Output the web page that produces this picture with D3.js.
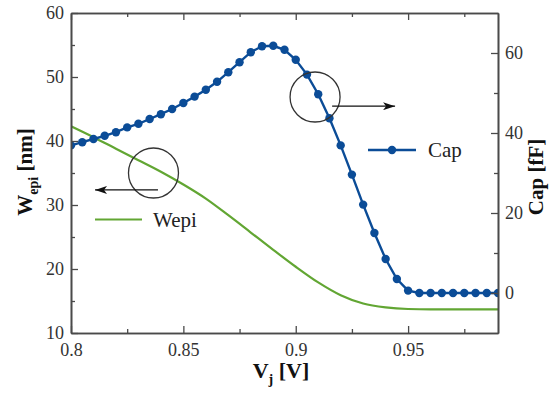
<!DOCTYPE html>
<html>
<head>
<meta charset="utf-8">
<script src="https://cdn.jsdelivr.net/npm/d3@7/dist/d3.min.js"></script>
<style>
  html, body { margin: 0; padding: 0; background: #fff; }
  svg { display: block; }
  text { font-family: "Liberation Serif", "DejaVu Serif", "Times New Roman", serif; }
</style>
</head>
<body>
<svg id="chart" width="550" height="399"></svg>
<script>
// ---------- data ----------
const capVj = [0.800,0.805,0.810,0.815,0.820,0.825,0.830,0.835,0.840,0.845,
               0.850,0.855,0.860,0.865,0.870,0.875,0.880,0.885,0.890,0.895,
               0.900,0.905,0.910,0.915,0.920,0.925,0.930,0.935,0.940,0.945,
               0.950,0.955,0.960,0.965,0.970,0.975,0.980,0.985,0.990];
const capValues = [36.9,37.7,38.5,39.3,40.2,41.4,42.3,43.5,44.7,46.0,
                   47.5,49.1,50.8,52.8,55.2,57.7,60.2,61.7,61.8,60.8,
                   58.3,54.6,49.7,43.7,36.9,29.6,22.1,15.0,8.5,3.5,
                   0.6,0,0,0,0,0,0,0,0];
const wepiVj = [0.80,0.81,0.82,0.83,0.84,0.85,0.86,0.87,0.88,0.89,
                0.90,0.91,0.92,0.93,0.94,0.95,0.96,0.97,0.98,0.99];
const wepiValues = [42.3,40.6,38.8,37.0,35.2,33.2,31.0,28.4,25.7,23.0,
                    20.35,17.9,15.9,14.6,14.0,13.75,13.7,13.7,13.7,13.7];
const xTicks = [0.8,0.85,0.9,0.95];
const xMinorTicks = [0.825,0.875,0.925,0.975];
const leftTicks = [10,20,30,40,50,60];
const leftMinorTicks = [15,25,35,45,55];
const rightTicks = [0,20,40,60];
const rightMinorTicks = [10,30,50];
const seriesNames = ["Cap","Wepi"];
// annotation anchors (data units)
const wepiCircle = {vj:0.8367, v:35.0};
const wepiArrow = {from:0.8387, to:0.8107, v:32.35};
const capCircle = {vj:0.9086, v:49.0};
const capArrow = {from:0.9162, to:0.9442, v:46.7};

// ---------- layout ----------
const L = 71, R = 498, T = 13, B = 333;
const FONT = '"Liberation Serif", "DejaVu Serif", "Times New Roman", serif';
const svg = d3.select("#chart");
const x = d3.scaleLinear().domain([0.8, 0.99]).range([L, R]);
const yL = d3.scaleLinear().domain([10, 60]).range([B, T]);
const yR = d3.scaleLinear().domain([-10, 70]).range([B, T]);

const capColor = "#0b4c97";
const wepiColor = "#62a633";
const axisColor = "#4a4a4a";

svg.append("defs").append("clipPath").attr("id","clip")
  .append("rect").attr("x",L).attr("y",T).attr("width",R-L).attr("height",B-T);

// ---------- series ----------
const plot = svg.append("g").attr("clip-path","url(#clip)");
const wepiData = wepiVj.map((d,i)=>({x:d, y:wepiValues[i]}));
const capData = capVj.map((d,i)=>({x:d, y:capValues[i]}));

plot.append("path").datum(wepiData)
  .attr("fill","none").attr("stroke",wepiColor).attr("stroke-width",2.2)
  .attr("d", d3.line().x(d=>x(d.x)).y(d=>yL(d.y)).curve(d3.curveMonotoneX));

plot.append("path").datum(capData)
  .attr("fill","none").attr("stroke",capColor).attr("stroke-width",2.4)
  .attr("d", d3.line().x(d=>x(d.x)).y(d=>yR(d.y)));
plot.selectAll("circle.cap").data(capData).enter().append("circle")
  .attr("class","cap").attr("cx",d=>x(d.x)).attr("cy",d=>yR(d.y))
  .attr("r",4.2).attr("fill",capColor);

// ---------- axes ----------
function styleAxis(g){
  g.attr("font-family", FONT);
  g.select(".domain").attr("stroke",axisColor).attr("stroke-width",1.6);
  g.selectAll(".tick line").attr("stroke",axisColor).attr("stroke-width",1.3);
  g.selectAll(".tick text").attr("fill","#333").style("font-size","18px")
    .style("font-family", FONT);
}
svg.append("g").attr("transform",`translate(0,${B})`)
  .call(d3.axisBottom(x).tickValues(xTicks).tickSize(-7).tickPadding(10)
        .tickFormat(d=>String(d)).tickSizeOuter(0)).call(styleAxis);
svg.append("g").attr("transform",`translate(0,${B})`)
  .call(d3.axisBottom(x).tickValues(xMinorTicks).tickSize(-4).tickFormat("").tickSizeOuter(0)).call(styleAxis);
svg.append("g").attr("transform",`translate(0,${T})`)
  .call(d3.axisTop(x).tickValues(xTicks).tickSize(-7).tickFormat("").tickSizeOuter(0)).call(styleAxis);
svg.append("g").attr("transform",`translate(0,${T})`)
  .call(d3.axisTop(x).tickValues(xMinorTicks).tickSize(-4).tickFormat("").tickSizeOuter(0)).call(styleAxis);

svg.append("g").attr("transform",`translate(${L},0)`)
  .call(d3.axisLeft(yL).tickValues(leftTicks).tickSize(-7).tickPadding(7).tickSizeOuter(0)).call(styleAxis);
svg.append("g").attr("transform",`translate(${L},0)`)
  .call(d3.axisLeft(yL).tickValues(leftMinorTicks).tickSize(-4).tickFormat("").tickSizeOuter(0)).call(styleAxis);

svg.append("g").attr("transform",`translate(${R},0)`)
  .call(d3.axisRight(yR).tickValues(rightTicks).tickSize(-7).tickPadding(7).tickSizeOuter(0)).call(styleAxis);
svg.append("g").attr("transform",`translate(${R},0)`)
  .call(d3.axisRight(yR).tickValues(rightMinorTicks).tickSize(-4).tickFormat("").tickSizeOuter(0)).call(styleAxis);

// ---------- titles ----------
const xt = svg.append("text").attr("x",281).attr("y",378).attr("text-anchor","middle")
  .style("font-family", FONT)
  .style("font-size","22px").style("font-weight","bold").attr("fill","#111");
xt.append("tspan").text("V");
xt.append("tspan").attr("dy",6).style("font-size","14px").text("j");
xt.append("tspan").attr("dy",-6).text(" [V]");

const yt = svg.append("text").attr("transform","translate(31.5,172) rotate(-90)")
  .style("font-family", FONT)
  .attr("text-anchor","middle").style("font-size","21px").style("font-weight","bold").attr("fill","#111");
yt.append("tspan").text("W");
yt.append("tspan").attr("dy",6).style("font-size","14px").text("epi");
yt.append("tspan").attr("dy",-6).text(" [nm]");

svg.append("text").attr("transform","translate(543,177) rotate(-90)")
  .style("font-family", FONT)
  .attr("text-anchor","middle").style("font-size","21px").style("font-weight","bold")
  .attr("fill","#111").text("Cap [fF]");

// ---------- legends ----------
svg.append("line").attr("x1",368).attr("x2",416).attr("y1",150).attr("y2",150)
  .attr("stroke",capColor).attr("stroke-width",2.4);
svg.append("circle").attr("cx",392).attr("cy",150).attr("r",4.2).attr("fill",capColor);
svg.append("text").attr("x",428).attr("y",157).style("font-family", FONT)
  .style("font-size","21px").attr("fill","#222").text(seriesNames[0]);

svg.append("line").attr("x1",95).attr("x2",142).attr("y1",219.5).attr("y2",219.5)
  .attr("stroke",wepiColor).attr("stroke-width",2.2);
svg.append("text").attr("x",153).attr("y",227).style("font-family", FONT)
  .style("font-size","21px").attr("fill","#222").text(seriesNames[1]);

// ---------- annotations ----------
svg.append("defs").append("marker").attr("id","arrow")
  .attr("viewBox","0 0 12 8").attr("refX",12).attr("refY",4)
  .attr("markerWidth",12).attr("markerHeight",8).attr("markerUnits","userSpaceOnUse")
  .attr("orient","auto")
  .append("path").attr("d","M0,0 L12,4 L0,8 L3,4 Z").attr("fill","#111");

svg.append("circle").attr("cx",x(wepiCircle.vj)).attr("cy",yL(wepiCircle.v)).attr("r",25)
  .attr("fill","none").attr("stroke","#333").attr("stroke-width",1.3);
svg.append("line").attr("x1",x(wepiArrow.from)).attr("x2",x(wepiArrow.to))
  .attr("y1",yL(wepiArrow.v)).attr("y2",yL(wepiArrow.v))
  .attr("stroke","#111").attr("stroke-width",1.3).attr("marker-end","url(#arrow)");

svg.append("circle").attr("cx",x(capCircle.vj)).attr("cy",yR(capCircle.v)).attr("r",25)
  .attr("fill","none").attr("stroke","#333").attr("stroke-width",1.3);
svg.append("line").attr("x1",x(capArrow.from)).attr("x2",x(capArrow.to))
  .attr("y1",yR(capArrow.v)).attr("y2",yR(capArrow.v))
  .attr("stroke","#111").attr("stroke-width",1.3).attr("marker-end","url(#arrow)");
</script>
</body>
</html>
